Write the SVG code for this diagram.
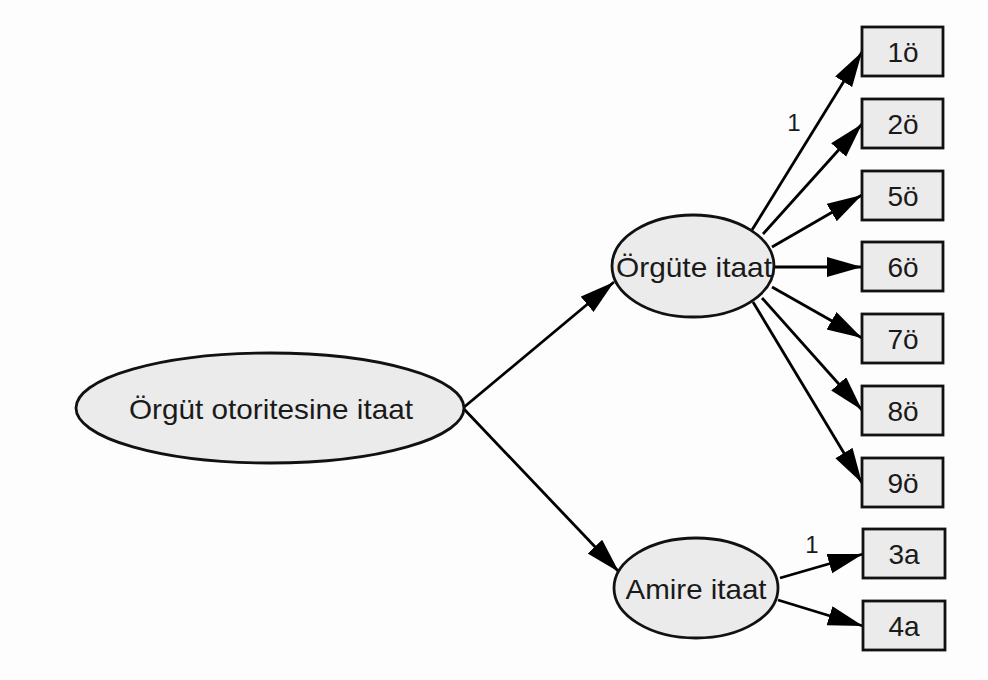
<svg xmlns="http://www.w3.org/2000/svg" width="988" height="680" viewBox="0 0 988 680">
<style>
.n{fill:#ebebeb;stroke:#111;stroke-width:2.8}
.t{font-family:"Liberation Sans",Arial,sans-serif;font-size:28px;fill:#1a1a1a;text-anchor:middle}
.l{font-family:"Liberation Sans",Arial,sans-serif;font-size:24px;fill:#1a1a1a;text-anchor:middle}
.e{stroke:#000;stroke-width:2.8;fill:none;marker-end:url(#ah)}
</style>
<defs>
<marker id="ah" markerUnits="userSpaceOnUse" markerWidth="38" markerHeight="22" refX="35" refY="10" orient="auto">
<path d="M0,0 L35,10 L0,20 z" fill="#000"/>
</marker>
</defs>
<rect width="988" height="680" fill="#fdfdfd"/>
<g id="edges">
<line class="e" x1="463" y1="408" x2="614" y2="282"/>
<line class="e" x1="463" y1="408" x2="619" y2="572"/>
<line class="e" x1="752" y1="230" x2="862" y2="52"/>
<line class="e" x1="763" y1="234" x2="862" y2="124"/>
<line class="e" x1="772" y1="247" x2="862" y2="195"/>
<line class="e" x1="775" y1="267" x2="862" y2="267"/>
<line class="e" x1="772" y1="287" x2="862" y2="338"/>
<line class="e" x1="762" y1="298" x2="862" y2="410"/>
<line class="e" x1="753" y1="302" x2="862" y2="483"/>
<line class="e" x1="780" y1="578" x2="863" y2="554"/>
<line class="e" x1="778" y1="600" x2="863" y2="626"/>
<text class="l" x="794" y="131" font-size="22">1</text>
<text class="l" x="812" y="553" font-size="22">1</text>
</g>
<g id="n_root"><ellipse class="n" cx="270" cy="408" rx="194" ry="55"/><text class="t" x="271" y="419" textLength="284" lengthAdjust="spacingAndGlyphs">Örgüt otoritesine itaat</text></g>
<g id="n_orgute"><ellipse class="n" cx="693" cy="266" rx="81" ry="51"/><text class="t" x="694" y="277" textLength="156" lengthAdjust="spacingAndGlyphs">Örgüte itaat</text></g>
<g id="n_amire"><ellipse class="n" cx="696" cy="588" rx="82" ry="50"/><text class="t" x="696" y="599" textLength="141" lengthAdjust="spacingAndGlyphs">Amire itaat</text></g>
<g id="b1"><rect class="n" x="862" y="27" width="81" height="49"/><text class="t" x="903" y="62">1ö</text></g>
<g id="b2"><rect class="n" x="862" y="99" width="81" height="49"/><text class="t" x="903" y="134">2ö</text></g>
<g id="b5"><rect class="n" x="862" y="171" width="81" height="49"/><text class="t" x="903" y="206">5ö</text></g>
<g id="b6"><rect class="n" x="862" y="242" width="81" height="49"/><text class="t" x="903" y="277">6ö</text></g>
<g id="b7"><rect class="n" x="862" y="314" width="81" height="49"/><text class="t" x="903" y="349">7ö</text></g>
<g id="b8"><rect class="n" x="862" y="386" width="81" height="49"/><text class="t" x="903" y="421">8ö</text></g>
<g id="b9"><rect class="n" x="862" y="458" width="81" height="49"/><text class="t" x="903" y="493">9ö</text></g>
<g id="b3a"><rect class="n" x="863" y="529" width="82" height="49"/><text class="t" x="904" y="564">3a</text></g>
<g id="b4a"><rect class="n" x="863" y="601" width="82" height="49"/><text class="t" x="904" y="636">4a</text></g>
</svg>
